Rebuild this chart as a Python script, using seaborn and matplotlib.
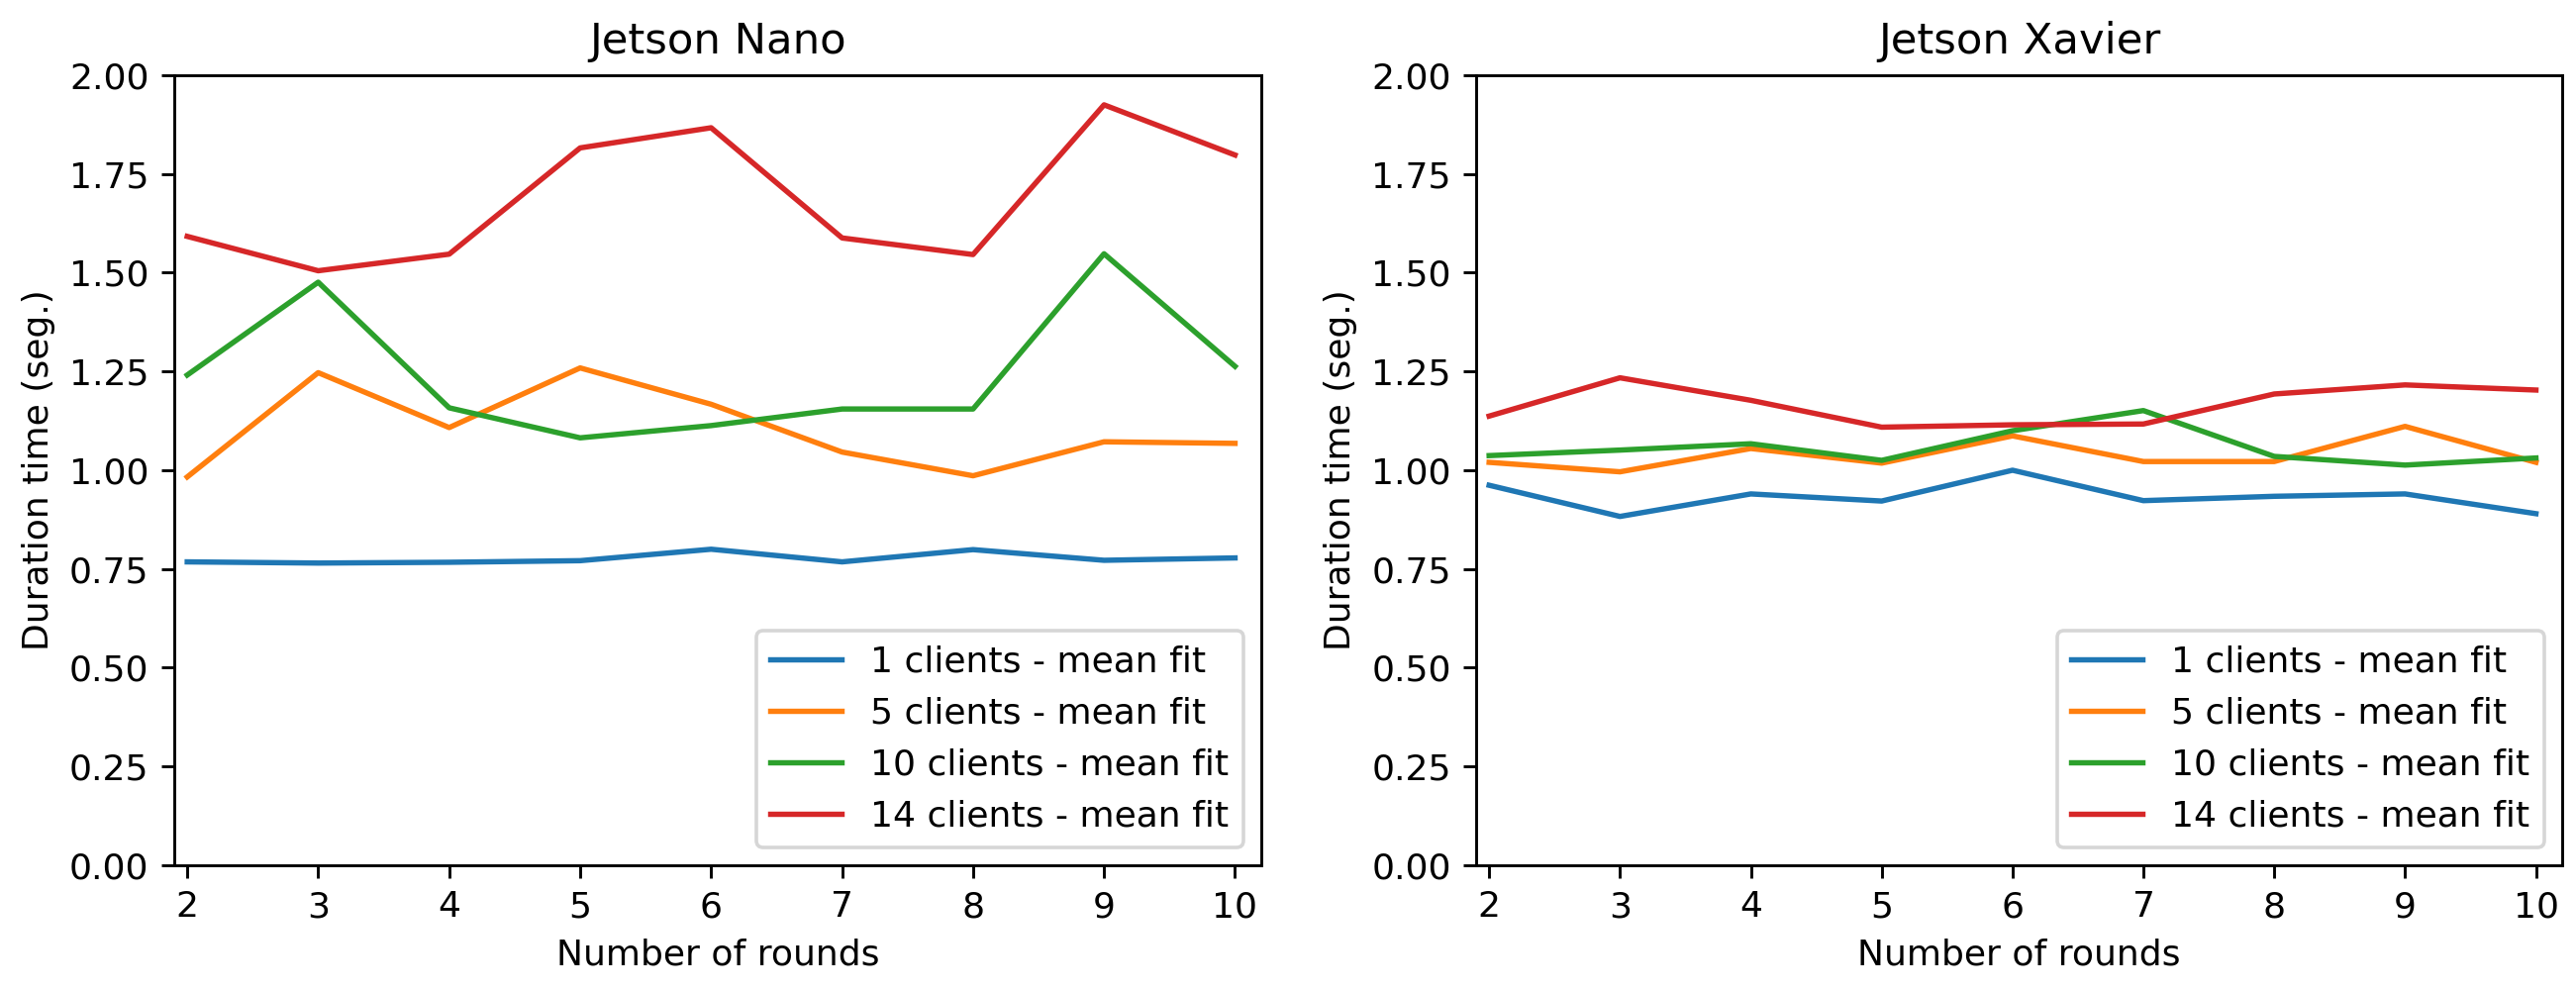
import matplotlib
matplotlib.use("Agg")
import matplotlib.pyplot as plt
import seaborn as sns
import pandas as pd
import numpy as np

rounds = [2, 3, 4, 5, 6, 7, 8, 9, 10]
series_labels = ["1 clients - mean fit", "5 clients - mean fit",
                 "10 clients - mean fit", "14 clients - mean fit"]

nano_1 = [0.768, 0.765, 0.767, 0.771, 0.800, 0.768, 0.799, 0.772, 0.778]
nano_5 = [0.983, 1.247, 1.108, 1.259, 1.167, 1.046, 0.986, 1.072, 1.068]
nano_10 = [1.241, 1.476, 1.158, 1.082, 1.113, 1.155, 1.155, 1.548, 1.263]
nano_14 = [1.592, 1.505, 1.547, 1.816, 1.867, 1.588, 1.546, 1.925, 1.798]

xavier_1 = [0.962, 0.883, 0.940, 0.922, 1.000, 0.923, 0.934, 0.940, 0.890]
xavier_5 = [1.020, 0.996, 1.055, 1.018, 1.087, 1.022, 1.022, 1.111, 1.020]
xavier_10 = [1.037, 1.051, 1.067, 1.025, 1.100, 1.151, 1.035, 1.013, 1.031]
xavier_14 = [1.137, 1.234, 1.177, 1.109, 1.115, 1.117, 1.193, 1.216, 1.203]

titles = ["Jetson Nano", "Jetson Xavier"]
yticks = [0.0, 0.25, 0.5, 0.75, 1.0, 1.25, 1.5, 1.75, 2.0]


def long_df(series):
    rows = []
    for lab, vals in zip(series_labels, series):
        for r, v in zip(rounds, vals):
            rows.append({"round": r, "value": v, "series": lab})
    return pd.DataFrame(rows)


datasets = [long_df([nano_1, nano_5, nano_10, nano_14]),
            long_df([xavier_1, xavier_5, xavier_10, xavier_14])]

dpi = 260
fig = plt.figure(figsize=(2602 / dpi, 1001 / dpi), dpi=dpi)
positions = [[0.0676, 0.1269, 0.4220, 0.7972],
             [0.5730, 0.1269, 0.4216, 0.7972]]
palette = sns.color_palette("tab10", 4)

for pos, df, title in zip(positions, datasets, titles):
    ax = fig.add_axes(pos)
    sns.lineplot(data=df, x="round", y="value", hue="series",
                 hue_order=series_labels, palette=palette, ax=ax,
                 linewidth=1.5)
    ax.set_xlim(1.9, 10.2)
    ax.set_ylim(0, 2.0)
    ax.set_xticks(rounds)
    ax.set_yticks(yticks)
    ax.set_title(title, fontsize=12)
    ax.set_xlabel("Number of rounds", fontsize=10)
    ax.set_ylabel("Duration time (seg.)", fontsize=10)
    ax.tick_params(labelsize=10)
    ax.legend(loc="lower right", fontsize=10, title=None)

fig.savefig("out.png", dpi=dpi)
